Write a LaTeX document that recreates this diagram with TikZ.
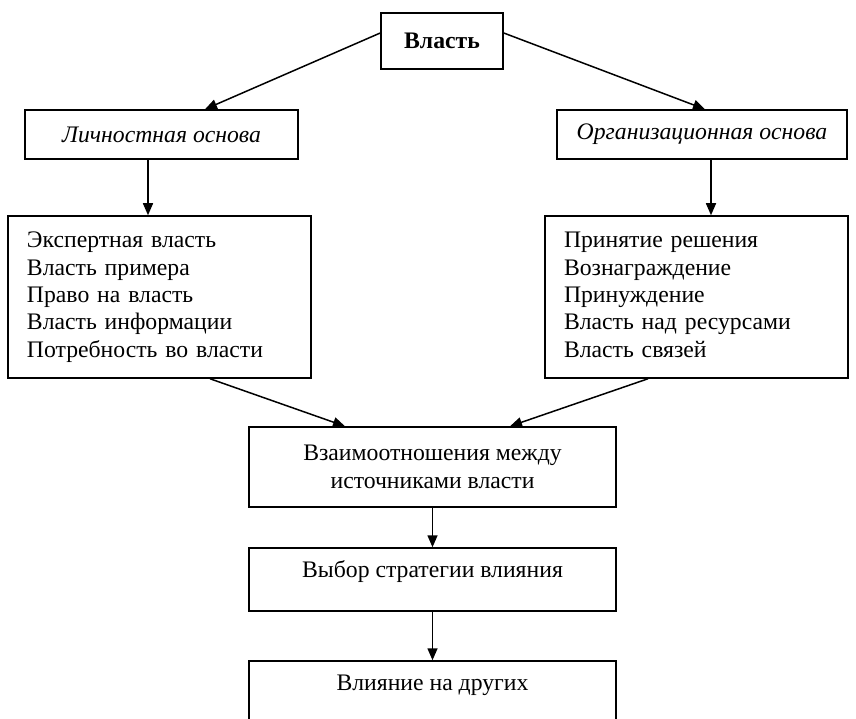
\documentclass[tikz,border=0pt]{standalone}
\usepackage{fontspec}
\setmainfont{Liberation Serif}
\usetikzlibrary{arrows.meta}
\begin{document}
\begin{tikzpicture}[x=1pt,y=-1pt,
  box/.style={draw, line width=1.5pt, rectangle, inner sep=0pt},
  txt/.style={font=\fontsize{23.7}{27.4}\selectfont, inner sep=0pt, align=center},
  arr/.style={line width=1.5pt, -{Triangle[length=12pt,width=10pt]}}]
\useasboundingbox (0,0) rectangle (856,719);
\clip (0,0) rectangle (856,719);
% boxes
\node[box, minimum width=122pt, minimum height=56pt, txt, font=\fontsize{23.7}{27.4}\selectfont\bfseries] (vl) at (442,41) {Власть};
\node[box, minimum width=273pt, minimum height=49pt, txt, font=\fontsize{23.7}{27.4}\selectfont\itshape] (lich) at (161.5,134.5) {Личностная основа};
\node[box, minimum width=290pt, minimum height=49pt, txt, font=\fontsize{23.7}{27.4}\selectfont\itshape] (org) at (702,134.5) {Организационная основа};
\node[box, minimum width=303pt, minimum height=162pt, font=\fontsize{23.7}{27.4}\selectfont, text width=265pt, align=left, inner xsep=19pt, inner ysep=0pt] (lbox) at (159.5,297) {\strut Экспертная власть\\\strut Власть примера\\\strut Право на власть\\\strut Власть информации\\\strut Потребность во власти};
\node[box, minimum width=303pt, minimum height=162pt, font=\fontsize{23.7}{27.4}\selectfont, text width=265pt, align=left, inner xsep=18pt, inner ysep=0pt] (rbox) at (696.5,297) {\strut Принятие решения\\\strut Вознаграждение\\\strut Принуждение\\\strut Власть над ресурсами\\\strut Власть связей};
\node[box, minimum width=367pt, minimum height=80pt, txt] (b1) at (432.5,467) {Взаимоотношения между\\источниками власти};
\node[box, minimum width=367pt, minimum height=63pt] (b2) at (432.5,579.5) {};
\node[txt] (t2) at (432.5,572) {Выбор стратегии влияния};
\node[box, minimum width=367pt, minimum height=100pt] (b3) at (432.5,711) {};
\node[txt] (t3) at (432.5,685) {Влияние на других};
% connectors
\draw[arr] ([yshift=8pt]vl.west) -- ([xshift=43.5pt]lich.north);
\draw[arr] ([yshift=8pt]vl.east) -- ([xshift=3pt]org.north);
\draw[arr] ([xshift=-13.5pt]lich.south) -- ([xshift=-13.5pt]lich.south |- lbox.north);
\draw[arr] ([xshift=9pt]org.south) -- ([xshift=9pt]org.south |- rbox.north);
\draw[arr] ([xshift=50.5pt]lbox.south) -- ([xshift=-87.5pt]b1.north);
\draw[arr] ([xshift=-48.5pt]rbox.south) -- ([xshift=77.5pt]b1.north);
\draw[arr] (b1.south) -- (b2.north);
\draw[arr] (b2.south) -- (b3.north);
\end{tikzpicture}
\end{document}
